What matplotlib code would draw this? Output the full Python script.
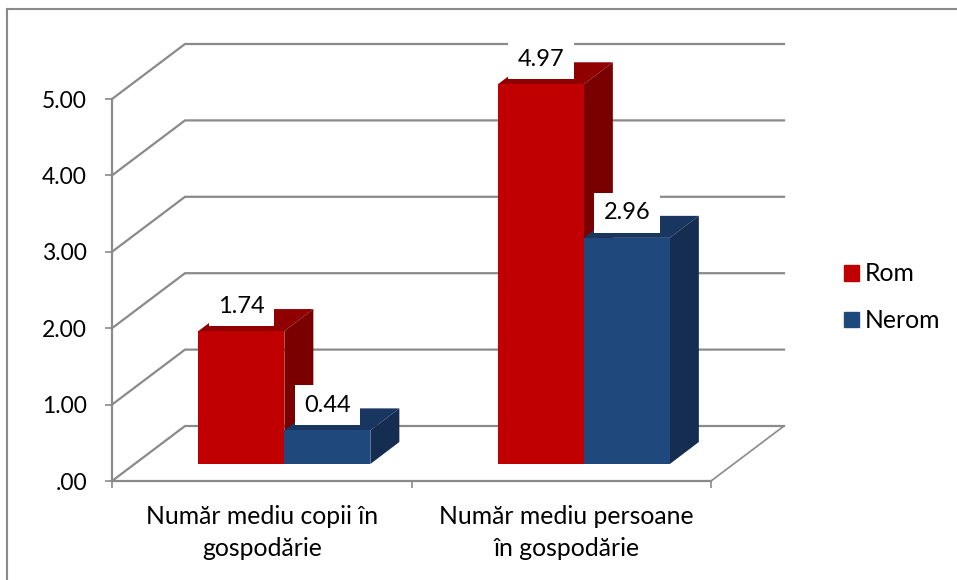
import matplotlib
matplotlib.use('Agg')
import matplotlib.pyplot as plt
from matplotlib.lines import Line2D
from matplotlib.patches import Patch

plt.rcParams['font.family'] = ['Lato', 'DejaVu Sans']

categories = ['Număr mediu copii în\ngospodărie', 'Număr mediu persoane\nîn gospodărie']
series_names = ['Rom', 'Nerom']
rom_values = [1.74, 4.97]
nerom_values = [0.44, 2.96]
value_ticks = [0, 1, 2, 3, 4, 5]
value_labels = ['.00', '1.00', '2.00', '3.00', '4.00', '5.00']

W, H = 957, 580
GREY = '#8a8a8a'
FS_NUM = 17
FS_TEXT = 17.8

# colours: front, top, side
RED = ('#c00000', '#900000', '#7a0000')
BLUE = ('#1f497d', '#18365f', '#152d50')

fig = plt.figure(figsize=(W / 100, H / 100), dpi=100)
ax = fig.add_axes([112 / W, 1 - 481 / H, 599 / W, 382 / H])
ax.set_xlim(0, 2)
ax.set_ylim(0, 5)
ax.patch.set_alpha(0)

# fake 3d: how far the back wall is shifted, in data units
px_x = 2 / 599
px_y = 5 / 382
wall_dx = 73 * px_x
wall_dy = 55 * px_y

# gridlines on side wall + back wall
for v in value_ticks:
    ax.plot([0, wall_dx, 2 + wall_dx], [v, v + wall_dy, v + wall_dy],
            color=GREY, lw=1.6, clip_on=False, zorder=1, solid_joinstyle='miter')
ax.plot([2, 2 + wall_dx], [0, wall_dy], color=GREY, lw=1.2, clip_on=False, zorder=1)

# bars sit part way into the floor
bar_w = 86 * px_x
shift_x = 22.6 * px_x
floor_y = 17 * px_y
depth_x = 29 * px_x
depth_y = 22 * px_y


def bar3d(x0, value, cols):
    top = floor_y + value
    x1 = x0 + bar_w
    ax.bar(x0, value, bar_w, bottom=floor_y, align='edge', color=cols[0], zorder=3, clip_on=False)
    ax.fill([x0, x1, x1 + depth_x, x0 + depth_x], [top, top, top + depth_y, top + depth_y],
            color=cols[1], lw=0, zorder=2.5, clip_on=False)
    ax.fill([x1, x1 + depth_x, x1 + depth_x, x1], [floor_y, floor_y + depth_y, top + depth_y, top],
            color=cols[2], lw=0, zorder=2.5, clip_on=False)
    ax.text(x0 + bar_w / 2, top + 25 * px_y, f'{value:.2f}', ha='center', va='center',
            fontsize=FS_NUM, color='black', zorder=5,
            bbox=dict(boxstyle='square,pad=0.4', fc='white', ec='none'))


for i in range(len(categories)):
    center = i + 0.5 + shift_x
    bar3d(center - bar_w, rom_values[i], RED)
    bar3d(center, nerom_values[i], BLUE)

# axes
for s in ['top', 'right']:
    ax.spines[s].set_visible(False)
for s in ['left', 'bottom']:
    ax.spines[s].set_color(GREY)
    ax.spines[s].set_linewidth(1.6)
    ax.spines[s].set_zorder(6)

ax.set_yticks(value_ticks)
ax.set_yticklabels(value_labels)
ax.tick_params(axis='y', length=5, width=1.2, color=GREY, labelsize=16.5, pad=13)
ax.set_xticks([0.5, 1.517])
ax.set_xticklabels(categories, linespacing=1.5)
ax.set_xticks([0, 1, 2], minor=True)
ax.tick_params(axis='x', which='major', length=0, labelsize=FS_TEXT, pad=17)
ax.tick_params(axis='x', which='minor', length=5, width=1.2, color=GREY)

handles = [Patch(color=RED[0], label=series_names[0]), Patch(color=BLUE[0], label=series_names[1])]
fig.legend(handles=handles, loc='upper left', bbox_to_anchor=(836.6 / W, 1 - 255 / H), frameon=False,
           fontsize=FS_TEXT, handlelength=0.61, handleheight=0.61, handletextpad=0.22, labelspacing=0.96,
           borderpad=0.3, borderaxespad=0)

# chart frame, only left and top are visible in the crop
fig.add_artist(Line2D([7 / W, 7 / W], [0, 1 - 8.5 / H], color=GREY, lw=1.5))
fig.add_artist(Line2D([7 / W, 1], [1 - 8.5 / H, 1 - 8.5 / H], color=GREY, lw=1.5))

fig.savefig('out.png', dpi=100)
